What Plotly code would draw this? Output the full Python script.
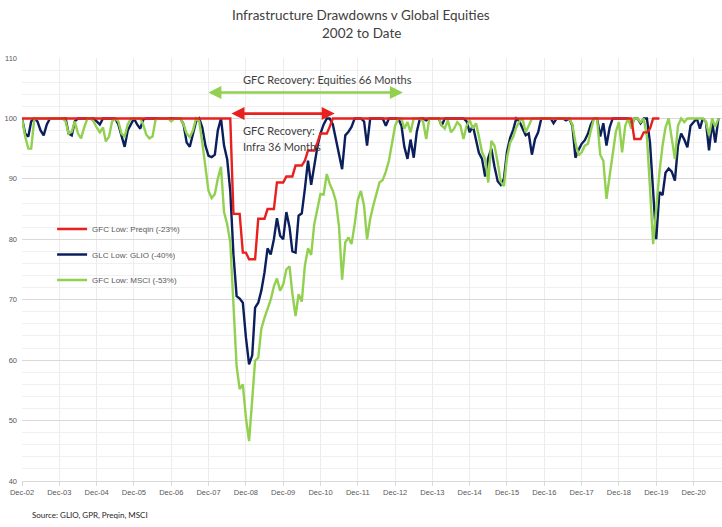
import pandas as pd
import plotly.graph_objects as go

# Monthly index values (peak = 100), first value = Dec-02
glio = [
    100, 97.5, 97, 99.5, 100, 99.5, 98, 97.2, 99, 100, 100, 100, 100,          # Dec-02, 2003
    100, 100, 97.5, 97.2, 99.5, 100, 100, 100, 100, 100, 100, 99.5,           # 2004
    99, 100, 100, 100, 100, 100, 99, 97, 95.3, 98, 99, 100,                   # 2005
    99, 98.3, 99.8, 100, 100, 100, 100, 100, 100, 100, 100, 100,              # 2006
    100, 100, 100, 99, 96, 95.3, 97.5, 99.5, 100, 98.5, 95.5, 93.8,           # 2007
    93.6, 94, 98, 100, 95.5, 93.2, 88, 77.5, 70.6, 70.2, 69.5, 63.8,          # 2008
    59.3, 60.8, 68.7, 69.5, 71.5, 74.5, 78.5, 77.5, 80, 83.5, 80.6, 80,       # 2009
    84.5, 82, 78, 77.8, 83.9, 84.3, 88.3, 93, 89, 92.5, 95.3, 97.5,           # 2010
    99, 100, 100, 99, 96.5, 93.5, 91.6, 97.2, 97.8, 98.6, 100, 100,           # 2011
    100, 99.5, 95.5, 100, 100, 100, 100, 100, 98.8, 100, 100, 100,            # 2012
    100, 98.8, 95.3, 93.3, 96.5, 93.5, 97.8, 100, 100, 99.7, 100, 100,        # 2013
    100, 100, 98.8, 100, 100, 100, 100, 100, 100, 100, 99.5, 97.7,            # 2014
    98.8, 96.6, 94.3, 93.3, 90.4, 93.5, 95, 92, 89.6, 89, 90, 94.5,           # 2015
    96.8, 98.2, 100, 99.5, 98.5, 97.2, 97.5, 94, 96.6, 97.7, 100, 100,        # 2016
    100, 100, 99.2, 100, 100, 100, 99.7, 100, 98.8, 93.5, 94.8, 95.8,         # 2017
    96.4, 97.5, 99, 100, 100, 97, 99.2, 95.5, 98.5, 100, 100, 100,            # 2018
    100, 100, 100, 98.8, 100, 100, 99.2, 100, 100, 96, 88, 80,                # 2019
    87.8, 87.3, 91, 91.7, 91.2, 89.7, 95.5, 97.5, 96.5, 95.2, 98.8, 99.4,     # 2020
    100, 98.3, 100, 99.4, 94.7, 99.4, 96, 100,                                # 2021
]

msci = [
    100, 97, 95, 95, 100, 100, 100, 100, 100, 100, 100, 100, 100,             # Dec-02, 2003
    100, 99.5, 97.5, 97.8, 99.5, 97.5, 96.7, 98.5, 100, 100, 99.5, 98.5,      # 2004
    97.7, 98.5, 96.2, 97, 99.5, 100, 99.5, 97.5, 97, 99, 100, 100,            # 2005
    100, 100, 99, 97.3, 96.7, 97, 99.8, 100, 100, 100, 100, 99.5,             # 2006
    100, 100, 100, 99, 97.5, 96.9, 98, 100, 99.5, 96, 92, 88,                 # 2007
    86.8, 87.5, 90, 92, 84.5, 82.5, 79.5, 69, 59, 55.2, 56, 50.5,             # 2008
    46.6, 53.5, 59.9, 60.4, 65.2, 67, 68.5, 70, 72.2, 73.5, 71.5, 72.5,       # 2009
    75, 75.5, 71, 67.3, 70.9, 69.7, 75.6, 78.5, 77.4, 82.5, 85, 87.5,         # 2010
    87.4, 90.8, 89.2, 88, 86.3, 82, 73.3, 79.5, 80.3, 79.2, 82.5, 86.5,       # 2011
    88, 85.5, 80, 83.4, 85.6, 87.7, 89.4, 89.8, 91.2, 93, 96.2, 98.8,         # 2012
    100, 100, 98.3, 99.4, 97.7, 100, 100, 100, 99.5, 96.6, 100, 100,          # 2013
    100, 100, 98.8, 98.3, 99.7, 97.7, 98.3, 99.4, 98.8, 96.6, 98.8, 99.7,     # 2014
    98.3, 99.2, 97, 94.4, 93.3, 89.4, 96.3, 95.5, 92.7, 89.5, 88.8, 93.5,     # 2015
    96, 97, 98.5, 99.5, 100, 97.7, 98.8, 100, 100, 100, 100, 100,             # 2016
    100, 100, 100, 100, 100, 100, 100, 100, 99, 96, 93.9, 94.4,               # 2017
    95.5, 95.8, 98, 100, 100, 94, 93, 86.7, 90.5, 94.5, 97.8, 99.4,           # 2018
    94.4, 98.8, 100, 98.3, 100, 100, 99.4, 100, 97, 88.5, 79.2, 85,           # 2019
    91, 95.5, 98.5, 100, 97, 93.3, 98.8, 100, 99.4, 100, 100, 100,            # 2020
    100, 100, 100, 99.4, 97.2, 100, 98.6, 100,                                # 2021
]

preqin = [
    100, 100, 100, 100, 100, 100, 100, 100, 100, 100, 100, 100, 100,          # Dec-02, 2003
    100, 100, 100, 100, 100, 100, 100, 100, 100, 100, 100, 100,               # 2004
    100, 100, 100, 100, 100, 100, 100, 100, 100, 100, 100, 100,               # 2005
    100, 100, 100, 100, 100, 100, 100, 100, 100, 100, 100, 100,               # 2006
    100, 100, 100, 100, 100, 100, 100, 100, 100, 100, 100, 100,               # 2007
    100, 100, 100, 100, 100, 100, 100, 84.2, 84.2, 84.2, 77.8, 77.8,          # 2008
    76.7, 76.7, 76.7, 83.4, 83.4, 83.4, 85, 85, 85, 89.4, 89.4, 89.4,         # 2009
    90.4, 90.4, 90.4, 92.2, 92.2, 92.2, 93, 94.7, 94.7, 94.7, 96, 97.5,       # 2010
    97.5, 97.5, 98.6, 100, 100, 100, 100, 100, 100, 100, 100, 100,            # 2011
    100, 100, 100, 100, 100, 100, 100, 100, 100, 100, 100, 100,               # 2012
    100, 100, 100, 100, 100, 100, 100, 100, 100, 100, 100, 100,               # 2013
    100, 100, 100, 100, 100, 100, 100, 100, 100, 100, 100, 100,               # 2014
    100, 100, 100, 100, 100, 100, 100, 100, 100, 100, 100, 100,               # 2015
    100, 100, 100, 100, 100, 100, 100, 100, 100, 100, 100, 100,               # 2016
    100, 100, 100, 100, 100, 100, 100, 100, 100, 100, 100, 100,               # 2017
    100, 100, 100, 100, 100, 100, 100, 100, 100, 100, 100, 100,               # 2018
    100, 100, 100, 100, 96.6, 96.6, 96.6, 97.7, 97.7, 98.3, 100, 100,         # 2019
    100,                                                                      # 2020
]

months = pd.date_range("2002-12-01", periods=len(glio), freq="MS")

names = ["GFC Low: Preqin (-23%)", "GLC Low: GLIO (-40%)", "GFC Low: MSCI (-53%)"]
colors = ["#E8201E", "#0B1F5C", "#92D050"]

fig = go.Figure()
fig.add_trace(go.Scatter(x=months, y=glio, name=names[1], mode="lines",
                         line=dict(color=colors[1], width=2.4),
                         legendgroup="b", legendrank=2))
fig.add_trace(go.Scatter(x=months, y=msci, name=names[2], mode="lines",
                         line=dict(color=colors[2], width=2.4),
                         legendgroup="c", legendrank=3))
fig.add_trace(go.Scatter(x=months[:len(preqin)], y=preqin, name=names[0], mode="lines",
                         line=dict(color=colors[0], width=2.4),
                         legendgroup="a", legendrank=1))

tick_font = dict(family="Liberation Sans, Arial, sans-serif", size=7.5, color="#595959")

fig.update_layout(
    width=722, height=527,
    margin=dict(l=22, r=0, t=58, b=46),
    paper_bgcolor="white", plot_bgcolor="white",
    showlegend=True,
    legend=dict(x=0.043, y=0.63, xanchor="left", yanchor="top",
                bgcolor="rgba(0,0,0,0)", tracegroupgap=6.5, itemwidth=30,
                font=dict(family="Liberation Sans, Arial, sans-serif", size=8, color="#595959")),
    xaxis=dict(type="date", range=["2002-12-01", "2021-09-05"],
               tick0="2002-12-01", dtick="M12", tickformat="%b-%y",
               showgrid=True, gridcolor="#ececec", gridwidth=1,
               showline=True, linecolor="#d9d9d9", ticks="outside", ticklen=4,
               tickcolor="#d9d9d9", tickfont=tick_font, zeroline=False),
    yaxis=dict(range=[40, 110], dtick=10, showgrid=True, gridcolor="#d9d9d9",
               minor=dict(dtick=2, showgrid=True, gridcolor="#f0f0f0"),
               zeroline=False, showline=False, tickfont=tick_font, ticklabelstandoff=4),
)

title_font = dict(family="Liberation Sans Narrow, Arial Narrow, Lato, sans-serif", size=13.5, color="#404040")
fig.add_annotation(text="Infrastructure Drawdowns v Global Equities", xref="paper", yref="paper",
                   x=0.4843, y=1.1017, xanchor="center", yanchor="middle", showarrow=False, font=title_font)
fig.add_annotation(text="2002 to Date", xref="paper", yref="paper",
                   x=0.4843, y=1.0591, xanchor="center", yanchor="middle", showarrow=False, font=title_font)

ann_font = dict(family="Lato, sans-serif", size=11, color="#404040")
# Equities recovery arrow
fig.add_annotation(x="2013-02-15", y=104.3, ax="2007-11-15", ay=104.3, xref="x", yref="y",
                   axref="x", ayref="y", text="", showarrow=True, arrowside="end+start",
                   arrowhead=2, arrowsize=1, arrowwidth=2.6, arrowcolor=colors[2])
fig.add_annotation(text="GFC Recovery: Equities 66 Months", x="2011-02-12", y=106.5,
                   xref="x", yref="y", showarrow=False, xanchor="center", yanchor="middle", font=ann_font)
# Infra recovery arrow
fig.add_annotation(x="2011-04-19", y=100.8, ax="2008-06-28", ay=100.8, xref="x", yref="y",
                   axref="x", ayref="y", text="", showarrow=True, arrowside="end+start",
                   arrowhead=2, arrowsize=1, arrowwidth=2.6, arrowcolor=colors[0])
fig.add_annotation(text="GFC Recovery:", x="2008-10-13", y=98.0,
                   xref="x", yref="y", showarrow=False, xanchor="left", yanchor="middle", font=ann_font)
fig.add_annotation(text="Infra 36 Months", x="2008-10-13", y=95.35,
                   xref="x", yref="y", showarrow=False, xanchor="left", yanchor="middle", font=ann_font)

fig.add_annotation(text="Source: GLIO, GPR, Preqin, MSCI", xref="paper", yref="paper",
                   x=0.0114, y=-0.0804, xanchor="left", yanchor="middle", showarrow=False,
                   font=dict(family="Liberation Sans Narrow, Arial Narrow, Lato, sans-serif", size=8, color="#262626"))

fig.write_html("out.html")
